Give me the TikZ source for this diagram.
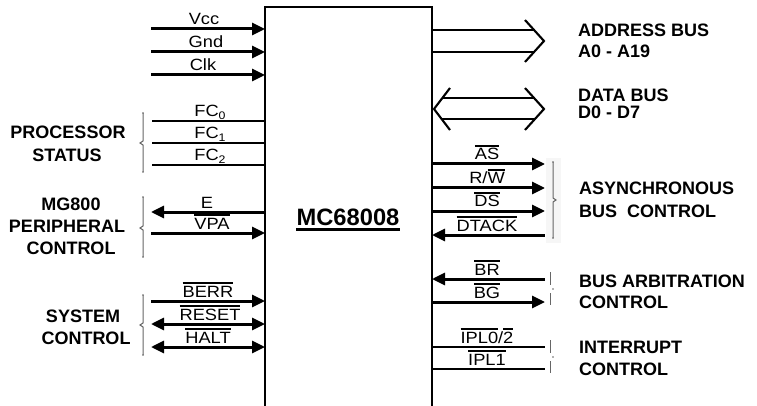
\documentclass[tikz,border=0pt]{standalone}
\usepackage{fontspec}
\setmainfont{Liberation Sans}
\newfontfamily\sigfont[FakeStretch=1.12]{Liberation Sans}
\usetikzlibrary{arrows.meta}
\newcommand\ovl[1]{\leavevmode\vbox{\hrule height 1.7pt\kern1.8pt\hbox{#1}}}
\newcommand\sigsub[1]{\raisebox{-2.5pt}{\fontsize{11}{11}\selectfont #1}}
\begin{document}
\begin{tikzpicture}[x=1pt,y=-1pt,
  sig/.style={line width=3pt},
  arr/.style={sig,-{Triangle[length=13pt,width=12pt]}},
  larr/.style={sig,{Triangle[length=13pt,width=12pt]}-},
  darr/.style={sig,{Triangle[length=13pt,width=12pt]}-{Triangle[length=13pt,width=12pt]}},
  plain/.style={line width=2.3pt},
  bus/.style={line width=2.1pt},
  siglab/.style={anchor=base,inner sep=0pt,font=\sigfont\fontsize{16.3}{18}\selectfont},
  grplab/.style={anchor=base,inner sep=0pt,font=\bfseries\fontsize{18}{20}\selectfont},
  grplabw/.style={anchor=base west,inner sep=0pt,font=\bfseries\fontsize{18}{20}\selectfont},
  brk/.style={draw=black!60,line width=1pt},
  dot/.style={fill=black!60}
]
\useasboundingbox (0,0) rectangle (757,406);

% chip body (open at the bottom)
\coordinate (bl) at (265,406);
\coordinate (tl) at (265,7);
\coordinate (tr) at (432,7);
\coordinate (br) at (432,406);
\draw[line width=2.1pt] (bl) -- (tl) -- (tr) -- (br);
\node[inner sep=0pt,anchor=base,font=\bfseries\fontsize{23.7}{26}\selectfont] (mc) at (348,225) {MC68008};
\draw[line width=2.3pt] ([yshift=-4.5pt]mc.base west) -- ([yshift=-4.5pt]mc.base east);

% ---------- left side ----------
\coordinate (vccA) at (151,29);  \coordinate (vccB) at (265,29);
\coordinate (gndA) at (151,52);  \coordinate (gndB) at (265,52);
\coordinate (clkA) at (151,75);  \coordinate (clkB) at (265,75);
\draw[arr] (vccA) -- (vccB);
\draw[arr] (gndA) -- (gndB);
\draw[arr] (clkA) -- (clkB);
\node[siglab] (tVcc) at (204,25) {Vcc};
\node[siglab] (tGnd) at (206,48) {Gnd};
\node[siglab] (tClk) at (203,71) {Clk};

\coordinate (fc0A) at (152,121); \coordinate (fc0B) at (265,121);
\coordinate (fc1A) at (152,143); \coordinate (fc1B) at (265,143);
\coordinate (fc2A) at (152,165); \coordinate (fc2B) at (265,165);
\draw[plain] (fc0A) -- (fc0B);
\draw[plain] (fc1A) -- (fc1B);
\draw[plain] (fc2A) -- (fc2B);
\node[siglab] (tFC0) at (210,117) {FC\sigsub{0}};
\node[siglab] (tFC1) at (210,139) {FC\sigsub{1}};
\node[siglab] (tFC2) at (210,161) {FC\sigsub{2}};

\coordinate (eA) at (151,212);   \coordinate (eB) at (265,212);
\coordinate (vpaA) at (151,233); \coordinate (vpaB) at (265,233);
\draw[larr] (eA) -- (eB);
\draw[arr] (vpaA) -- (vpaB);
\node[siglab] (tE) at (207,208) {E};
\node[siglab] (tVPA) at (212,229) {\ovl{VPA}};

\coordinate (berrA) at (151,301);  \coordinate (berrB) at (265,301);
\coordinate (resetA) at (151,324); \coordinate (resetB) at (265,324);
\coordinate (haltA) at (151,347);  \coordinate (haltB) at (265,347);
\draw[arr] (berrA) -- (berrB);
\draw[darr] (resetA) -- (resetB);
\draw[darr] (haltA) -- (haltB);
\node[siglab] (tBERR) at (208,297) {\ovl{BERR}};
\node[siglab] (tRESET) at (210,320) {\ovl{RESET}};
\node[siglab] (tHALT) at (208,343) {\ovl{HALT}};

% left group labels
\node[grplab] (gP1) at (68,139) {PROCESSOR};
\node[grplab] (gP2) at (67,162) {STATUS};
\node[grplab] (gM1) at (71,210) {MG800};
\node[grplab] (gM2) at (67,232) {PERIPHERAL};
\node[grplab] (gM3) at (71,254) {CONTROL};
\node[grplab] (gS1) at (83,322) {SYSTEM};
\node[grplab] (gS2) at (86,344) {CONTROL};

% left brackets
\draw[brk] (143,113) -- (143,141) -- (140,143) -- (143,145) -- (143,172);
\draw[brk] (143,197) -- (143,226) -- (140,228) -- (143,230) -- (143,257);
\draw[brk] (143,295) -- (143,323) -- (140,325) -- (143,327) -- (143,355);
\foreach \yy in {113,172,197,257,295,355} \fill[dot] (143,\yy) circle (0.9);

% ---------- right side ----------
% address bus
\coordinate (abA) at (432,30);  \coordinate (abB) at (534,30);
\coordinate (abC) at (432,52);  \coordinate (abD) at (534,52);
\coordinate (abT) at (525,20);  \coordinate (abP) at (544,41);  \coordinate (abU) at (525,62);
\draw[bus] (abA) -- (abB);
\draw[bus] (abC) -- (abD);
\draw[bus] (abT) -- (abP) -- (abU);
% data bus
\coordinate (dbA) at (442,98);  \coordinate (dbB) at (534,98);
\coordinate (dbC) at (442,119); \coordinate (dbD) at (534,119);
\coordinate (dbLT) at (450,88); \coordinate (dbLP) at (434,109); \coordinate (dbLU) at (450,130);
\coordinate (dbRT) at (525,88); \coordinate (dbRP) at (544,109); \coordinate (dbRU) at (525,130);
\draw[bus] (dbA) -- (dbB);
\draw[bus] (dbC) -- (dbD);
\draw[bus] (dbLT) -- (dbLP) -- (dbLU);
\draw[bus] (dbRT) -- (dbRP) -- (dbRU);

\node[grplabw] (gA1) at (578,37) {ADDRESS BUS};
\node[grplabw] (gA2) at (578,58) {A0 - A19};
\node[grplabw] (gD1) at (578,102) {DATA BUS};
\node[grplabw] (gD2) at (578,119) {D0 - D7};

% asynchronous bus control
\fill[gray!7] (546,158) rectangle (561,243);
\coordinate (asA) at (432,164);  \coordinate (asB) at (545,164);
\coordinate (rwA) at (432,188);  \coordinate (rwB) at (545,188);
\coordinate (dsA) at (432,211);  \coordinate (dsB) at (545,211);
\coordinate (dtA) at (432,235);  \coordinate (dtB) at (545,235);
\draw[arr] (asA) -- (asB);
\draw[arr] (rwA) -- (rwB);
\draw[arr] (dsA) -- (dsB);
\draw[larr] (dtA) -- (dtB);
\node[siglab] (tAS) at (487,160) {\ovl{AS}};
\node[siglab] (tRW) at (487,184) {R/\ovl{W}};
\node[siglab] (tDS) at (487,207) {\ovl{DS}};
\node[siglab] (tDT) at (487,231) {\ovl{DTACK}};
\draw[brk] (553,162) -- (553,198) -- (556,200) -- (553,202) -- (553,238);
\foreach \yy in {162,238} \fill[dot] (553,\yy) circle (0.9);
\node[grplabw] (gY1) at (579,195) {ASYNCHRONOUS};
\node[grplabw] (gY2) at (579,217) {BUS\ \ CONTROL};

% bus arbitration
\coordinate (brA) at (432,279);  \coordinate (brB) at (545,279);
\coordinate (bgA) at (432,302);  \coordinate (bgB) at (545,302);
\draw[larr] (brA) -- (brB);
\draw[arr] (bgA) -- (bgB);
\node[siglab] (tBR) at (487,275) {\ovl{BR}};
\node[siglab] (tBG) at (487,298) {\ovl{BG}};
\draw[brk] (550,272) -- (550,285);
\draw[brk] (550,293) -- (550,305);
\fill[dot] (553,289) circle (0.9);
\node[grplabw] (gB1) at (579,287) {BUS ARBITRATION};
\node[grplabw] (gB2) at (579,308) {CONTROL};

% interrupt control
\coordinate (i0A) at (432,347);  \coordinate (i0B) at (545,347);
\coordinate (i1A) at (432,369);  \coordinate (i1B) at (545,369);
\draw[plain] (i0A) -- (i0B);
\draw[plain] (i1A) -- (i1B);
\node[siglab] (tI0) at (487,343) {\ovl{IPL0}/\ovl{2}};
\node[siglab] (tI1) at (487,365) {\ovl{IPL1}};
\draw[brk] (550,340) -- (550,353);
\draw[brk] (550,361) -- (550,373);
\fill[dot] (553,357) circle (0.9);
\node[grplabw] (gI1) at (579,353) {INTERRUPT};
\node[grplabw] (gI2) at (579,375) {CONTROL};
\end{tikzpicture}
\end{document}
